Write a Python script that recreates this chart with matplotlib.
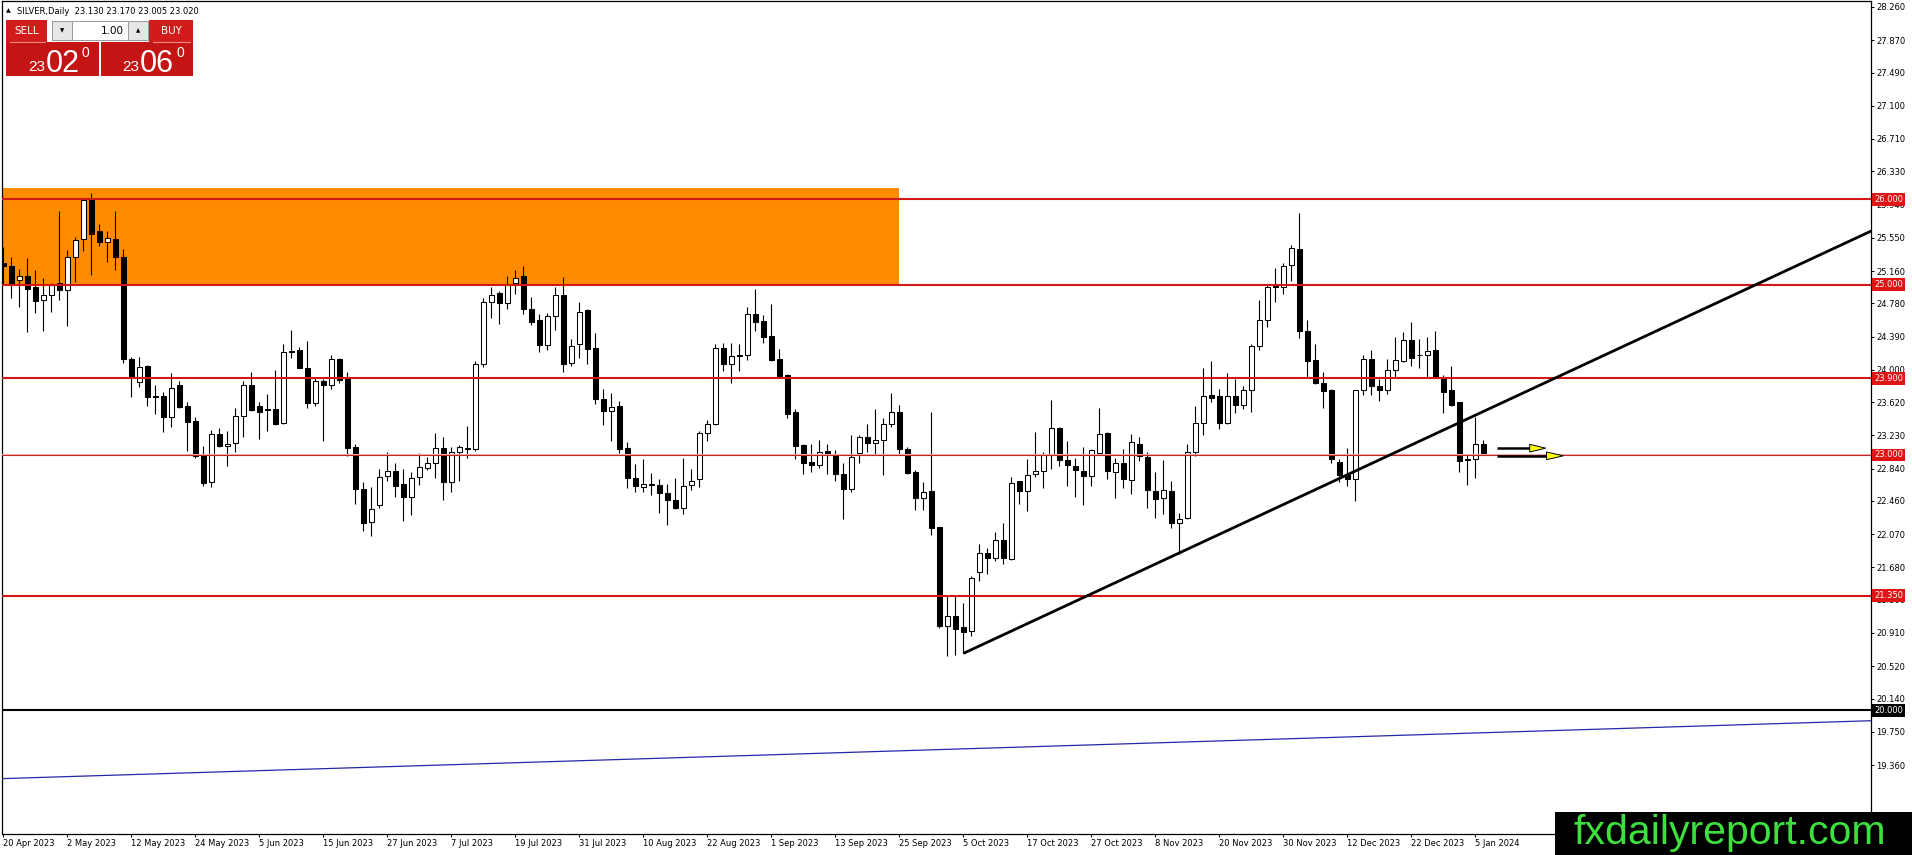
import matplotlib
matplotlib.use('Agg')
import matplotlib.pyplot as plt
from matplotlib.patches import Rectangle, Polygon
import matplotlib.transforms as mtransforms
import numpy as np

# ---------------- data ----------------
opens = [25.25, 25.22, 25.05, 25.10, 24.97, 24.82, 24.88, 25.02, 24.94, 25.32,
         25.53, 25.99, 25.63, 25.50, 25.54, 25.33, 24.13, 23.86, 24.04, 23.69,
         23.69, 23.44, 23.82, 23.58, 23.40, 23.01, 22.68, 23.25, 23.11, 23.14,
         23.46, 23.82, 23.58, 23.54, 23.54, 23.37, 24.22, 24.23, 24.02, 23.61,
         23.87, 23.82, 24.13, 23.89, 23.09, 22.60, 22.21, 22.41, 22.75, 22.81,
         22.66, 22.51, 22.74, 22.85, 22.91, 23.08, 22.68, 23.03, 23.08, 23.07,
         24.07, 24.80, 24.90, 24.78, 25.02, 25.10, 24.71, 24.58, 24.29, 24.63,
         24.88, 24.08, 24.30, 24.70, 24.26, 23.66, 23.52, 23.58, 23.08, 22.73,
         22.62, 22.65, 22.65, 22.55, 22.47, 22.38, 22.65, 22.72, 23.26, 23.36,
         24.26, 24.07, 24.17, 24.17, 24.66, 24.57, 24.40, 24.13, 23.94, 23.50,
         23.12, 22.92, 22.88, 23.05, 23.01, 22.78, 22.60, 23.02, 23.21, 23.14,
         23.18, 23.36, 23.50, 23.07, 22.80, 22.50, 22.58, 22.15, 20.99, 21.11,
         20.98, 20.93, 21.63, 21.85, 21.79, 22.00, 21.78, 22.69, 22.58, 22.78,
         22.81, 23.00, 23.32, 22.94, 22.87, 22.81, 22.75, 23.02, 23.26, 22.80,
         22.90, 22.71, 23.13, 22.98, 22.58, 22.49, 22.58, 22.20, 22.26, 23.04,
         23.38, 23.70, 23.69, 23.38, 23.69, 23.59, 23.76, 24.28, 24.59, 25.00,
         24.97, 25.23, 25.42, 24.45, 24.12, 23.85, 23.76, 22.92, 22.76, 22.72,
         23.76, 24.13, 23.81, 23.76, 24.00, 24.10, 24.35, 24.17, 24.17, 24.23,
         23.92, 23.76, 23.62, 22.95, 22.95, 23.13]
highs = [25.44, 25.33, 25.18, 25.31, 25.17, 25.08, 25.02, 25.86, 25.41, 25.56,
         26.02, 26.08, 25.71, 25.63, 25.87, 25.42, 24.15, 24.15, 24.06, 23.82,
         23.74, 23.96, 23.87, 23.62, 23.44, 23.10, 23.29, 23.32, 23.28, 23.55,
         23.87, 23.97, 23.62, 23.72, 24.00, 24.30, 24.47, 24.27, 24.34, 23.91,
         23.89, 24.17, 24.14, 23.98, 23.13, 22.68, 22.62, 22.84, 23.04, 22.91,
         22.83, 22.80, 23.02, 22.98, 23.26, 23.21, 23.09, 23.12, 23.34, 24.10,
         24.84, 24.97, 24.93, 25.10, 25.17, 25.22, 24.86, 24.65, 24.67, 24.97,
         25.09, 24.36, 24.80, 24.71, 24.43, 23.78, 23.73, 23.63, 23.15, 22.89,
         22.95, 22.79, 22.72, 22.66, 22.73, 22.96, 22.84, 23.28, 23.41, 24.30,
         24.31, 24.32, 24.30, 24.74, 24.95, 24.64, 24.77, 24.24, 23.95, 23.54,
         23.13, 23.13, 23.17, 23.13, 23.06, 22.91, 23.23, 23.23, 23.36, 23.54,
         23.43, 23.73, 23.59, 23.09, 22.82, 22.68, 23.50, 22.15, 21.35, 21.35,
         21.26, 21.58, 21.96, 21.91, 22.09, 22.20, 22.74, 22.70, 22.95, 23.27,
         23.04, 23.64, 23.33, 23.16, 22.97, 23.09, 23.07, 23.55, 23.27, 22.97,
         23.07, 23.25, 23.21, 23.03, 22.80, 22.94, 22.70, 22.32, 23.13, 23.57,
         24.02, 24.10, 23.78, 23.96, 23.89, 23.81, 24.30, 24.82, 24.99, 25.20,
         25.25, 25.47, 25.84, 24.59, 24.30, 23.97, 23.78, 22.95, 23.08, 23.76,
         24.17, 24.23, 23.89, 24.13, 24.39, 24.44, 24.56, 24.36, 24.39, 24.45,
         23.94, 24.04, 23.62, 23.01, 23.44, 23.17]
lows = [25.01, 24.84, 24.74, 24.44, 24.67, 24.45, 24.68, 24.82, 24.52, 25.03,
        25.39, 25.11, 25.45, 25.26, 25.17, 24.08, 23.68, 23.80, 23.57, 23.48,
        23.27, 23.33, 23.55, 23.05, 22.97, 22.63, 22.62, 23.09, 22.87, 23.03,
        23.21, 23.52, 23.19, 23.28, 23.35, 23.36, 24.14, 24.02, 23.55, 23.58,
        23.16, 23.78, 23.84, 22.99, 22.43, 22.11, 22.05, 22.38, 22.70, 22.51,
        22.23, 22.30, 22.65, 22.82, 22.73, 22.47, 22.57, 22.70, 22.97, 23.05,
        24.03, 24.61, 24.54, 24.71, 24.89, 24.65, 24.53, 24.21, 24.23, 24.47,
        23.98, 24.05, 24.14, 24.07, 23.60, 23.35, 23.16, 23.02, 22.61, 22.57,
        22.57, 22.53, 22.32, 22.18, 22.36, 22.31, 22.59, 22.62, 23.16, 23.35,
        23.99, 23.85, 23.99, 24.12, 24.46, 24.31, 24.10, 23.90, 23.43, 22.95,
        22.78, 22.80, 22.85, 22.78, 22.69, 22.25, 22.57, 22.91, 23.04, 23.00,
        22.76, 23.33, 23.00, 22.78, 22.35, 22.35, 22.06, 20.97, 20.64, 20.65,
        20.67, 20.88, 21.52, 21.60, 21.75, 21.72, 21.77, 22.43, 22.34, 22.74,
        22.61, 22.84, 22.87, 22.63, 22.51, 22.41, 22.63, 23.00, 22.72, 22.49,
        22.61, 22.54, 22.93, 22.38, 22.26, 22.31, 22.14, 21.84, 22.25, 22.99,
        23.23, 23.62, 23.31, 23.36, 23.49, 23.54, 23.51, 24.23, 24.50, 24.80,
        24.89, 25.04, 24.37, 23.92, 23.83, 23.55, 22.91, 22.68, 22.63, 22.46,
        23.71, 23.71, 23.63, 23.72, 23.91, 24.09, 24.04, 24.02, 23.91, 23.90,
        23.49, 23.58, 22.80, 22.65, 22.73, 23.005]
closes = [25.22, 25.02, 25.10, 24.95, 24.81, 24.88, 24.99, 24.94, 25.32, 25.52,
          25.99, 25.60, 25.50, 25.55, 25.32, 24.13, 23.90, 24.03, 23.68, 23.68,
          23.44, 23.79, 23.56, 23.39, 22.99, 22.67, 23.25, 23.11, 23.13, 23.46,
          23.82, 23.53, 23.51, 23.53, 23.36, 24.21, 24.21, 24.02, 23.61, 23.87,
          23.82, 24.13, 23.88, 23.08, 22.60, 22.20, 22.37, 22.74, 22.81, 22.64,
          22.51, 22.73, 22.86, 22.91, 23.08, 22.68, 23.03, 23.09, 23.07, 24.07,
          24.80, 24.88, 24.78, 25.00, 25.08, 24.71, 24.56, 24.29, 24.63, 24.88,
          24.07, 24.28, 24.68, 24.25, 23.66, 23.52, 23.56, 23.07, 22.73, 22.63,
          22.66, 22.66, 22.55, 22.47, 22.38, 22.64, 22.70, 23.26, 23.36, 24.26,
          24.07, 24.16, 24.16, 24.66, 24.56, 24.39, 24.12, 23.93, 23.48, 23.11,
          22.91, 22.88, 23.03, 23.01, 22.78, 22.60, 22.98, 23.21, 23.14, 23.18,
          23.36, 23.50, 23.07, 22.79, 22.50, 22.57, 22.14, 20.99, 21.11, 20.96,
          20.92, 21.56, 21.85, 21.79, 22.00, 21.79, 22.67, 22.58, 22.76, 22.81,
          23.00, 23.32, 22.94, 22.88, 22.82, 22.75, 23.06, 23.25, 22.81, 22.90,
          22.72, 23.15, 22.99, 22.59, 22.48, 22.59, 22.20, 22.25, 23.03, 23.38,
          23.69, 23.67, 23.38, 23.69, 23.59, 23.76, 24.28, 24.59, 24.97, 24.97,
          25.22, 25.43, 24.45, 24.10, 23.84, 23.75, 22.95, 22.76, 22.72, 23.76,
          24.13, 23.81, 23.76, 24.00, 24.11, 24.35, 24.14, 24.17, 24.22, 23.92,
          23.74, 23.59, 22.93, 22.94, 23.13, 23.02]

date_labels = ['20 Apr 2023', '2 May 2023', '12 May 2023', '24 May 2023', '5 Jun 2023',
               '15 Jun 2023', '27 Jun 2023', '7 Jul 2023', '19 Jul 2023', '31 Jul 2023',
               '10 Aug 2023', '22 Aug 2023', '1 Sep 2023', '13 Sep 2023', '25 Sep 2023',
               '5 Oct 2023', '17 Oct 2023', '27 Oct 2023', '8 Nov 2023', '20 Nov 2023',
               '30 Nov 2023', '12 Dec 2023', '22 Dec 2023', '5 Jan 2024']
date_label_bars = list(range(0, 8 * len(date_labels), 8))

price_ticks = [28.260, 27.870, 27.490, 27.100, 26.710, 26.330, 25.940, 25.550,
               25.160, 24.780, 24.390, 24.000, 23.620, 23.230, 22.840, 22.460,
               22.070, 21.680, 21.300, 20.910, 20.520, 20.140, 19.750, 19.360]

red_levels = [26.000, 25.000, 23.900, 21.350]
thin_level = 23.000
black_level = 20.000

zone_top = 26.135
zone_bottom = 25.000
zone_end_bar = 112

trend_bars = [120, 233.5]
trend_prices = [20.67, 25.63]

channel_bars = [-0.2, 233.5]
channel_prices = [19.20, 19.88]

arrow_tail_bar = 186.7
arrow_levels = [23.08, 22.99]
arrow_head_start = [190.8, 192.9]
arrow_head_tip = [192.8, 195.0]
arrow_half_height = 0.045

header_text = 'SILVER,Daily  23.130 23.170 23.005 23.020'
sell_price = ('23', '02', '0')
buy_price = ('23', '06', '0')
lot_text = '1.00'
watermark = 'fxdailyreport.com'

# ---------------- figure ----------------
W, H = 1912, 855
DPI = 100
fig = plt.figure(figsize=(W / DPI, H / DPI), dpi=DPI, facecolor='white')

left_px, right_px, top_px, bottom_px = 2, 1871, 1, 834
ax = fig.add_axes([left_px / W, (H - bottom_px) / H,
                   (right_px - left_px) / W, (bottom_px - top_px) / H])
ax.set_facecolor('white')
ax.set_xlim(-0.1625, 233.4625)
ax.set_ylim(18.550, 28.330)

for sp in ax.spines.values():
    sp.set_color('black')
    sp.set_linewidth(0.9)

# zone
x0 = ax.get_xlim()[0] - 2
ax.add_patch(Rectangle((x0, zone_bottom), zone_end_bar - x0, zone_top - zone_bottom,
                       facecolor='#ff8c00', edgecolor='none', zorder=1))

# candles
o = np.array(opens); h = np.array(highs); l = np.array(lows); c = np.array(closes)
xs = np.arange(len(o))
ax.vlines(xs, l, h, color='black', linewidth=0.8, zorder=3)
body_bottom = np.minimum(o, c)
body_height = np.maximum(np.abs(c - o), 0.004)
face = ['white' if cc > oo else 'black' for oo, cc in zip(o, c)]
ax.bar(xs, body_height, bottom=body_bottom, width=0.56, color=face,
       edgecolor='black', linewidth=0.75, zorder=4)

# horizontal levels
for lv in red_levels:
    ax.axhline(lv, color='#d01818', linewidth=1.5, zorder=5)
ax.axhline(thin_level + 0.012, color='#f0b0b0', linewidth=0.8, zorder=5)
ax.axhline(thin_level, color='#c02828', linewidth=0.8, zorder=5)
ax.axhline(black_level, color='black', linewidth=1.5, zorder=5)

# channel (blue) line and trendline
ax.plot(channel_bars, channel_prices, color='#2626a8', linewidth=0.9, zorder=5)
ax.plot(trend_bars, trend_prices, color='black', linewidth=2.0, zorder=6,
        solid_capstyle='butt')

# arrows
for lv, hs, ht in zip(arrow_levels, arrow_head_start, arrow_head_tip):
    ax.plot([arrow_tail_bar, hs], [lv, lv], color='black', linewidth=1.8, zorder=7,
            solid_capstyle='butt')
    ax.add_patch(Polygon([[hs, lv + arrow_half_height], [ht, lv],
                          [hs, lv - arrow_half_height]], closed=True,
                         facecolor='#ffff00', edgecolor='black', linewidth=0.7, zorder=8))

# axes ticks
ax.yaxis.tick_right()
ax.set_yticks(price_ticks)
ax.set_yticklabels([f'{v:.3f}' for v in price_ticks])
ax.tick_params(axis='y', direction='out', length=2.2, width=0.7, pad=1.5,
               labelsize=6, colors='black')
ax.set_xticks(date_label_bars)
ax.set_xticklabels(date_labels)
ax.tick_params(axis='x', direction='out', length=2.2, width=0.7, pad=1.2,
               labelsize=6, colors='black')
for lbl in ax.get_xticklabels():
    lbl.set_horizontalalignment('left')

# price labels on axis
blend = mtransforms.blended_transform_factory(ax.transAxes, ax.transData)
for lv in red_levels + [thin_level]:
    ax.text(1.0016, lv, f'{lv:.3f}', transform=blend, ha='left', va='center',
            fontsize=6, color='white', clip_on=False, zorder=20,
            bbox=dict(boxstyle='square,pad=0.22', facecolor='#e01414', edgecolor='none'))
ax.text(1.0016, black_level, f'{black_level:.3f}', transform=blend, ha='left', va='center',
        fontsize=6, color='white', clip_on=False, zorder=20,
        bbox=dict(boxstyle='square,pad=0.22', facecolor='black', edgecolor='none'))

# ---------------- overlay (pixel coords) ----------------
ov = fig.add_axes([0, 0, 1, 1], zorder=10)
ov.set_xlim(0, W)
ov.set_ylim(H, 0)
ov.axis('off')
ov.patch.set_alpha(0)

ov.text(6, 11, '\u25b2', fontsize=4.5, color='black', va='center', ha='left')
ov.text(17, 11, header_text, fontsize=6, color='black', va='center', ha='left')

red = '#d21c1c'
ov.add_patch(Rectangle((6, 20), 41, 22, facecolor=red, edgecolor='none'))
ov.add_patch(Rectangle((149, 20), 44, 22, facecolor=red, edgecolor='none'))
ov.add_patch(Rectangle((6, 42), 93, 34, facecolor='#c41414', edgecolor='none'))
ov.add_patch(Rectangle((101, 42), 92, 34, facecolor='#c41414', edgecolor='none'))
ov.plot([10, 45], [42, 42], color='#f08a8a', linewidth=0.8)
ov.plot([153, 190], [42, 42], color='#f08a8a', linewidth=0.8)
ov.add_patch(Rectangle((52, 21), 20, 19, facecolor='#e6e6e6', edgecolor='#9a9a9a', linewidth=0.7))
ov.add_patch(Rectangle((72, 21), 56, 19, facecolor='white', edgecolor='#9a9a9a', linewidth=0.7))
ov.add_patch(Rectangle((128, 21), 20, 19, facecolor='#e6e6e6', edgecolor='#9a9a9a', linewidth=0.7))
ov.text(62, 31, '\u25bc', fontsize=4, ha='center', va='center', color='black')
ov.text(138, 30.5, '\u25b2', fontsize=4, ha='center', va='center', color='black')
ov.text(124, 31, lot_text, fontsize=7.5, ha='right', va='center', color='black')
ov.text(26.5, 31, 'SELL', fontsize=7.5, ha='center', va='center', color='white')
ov.text(171, 31, 'BUY', fontsize=7.5, ha='center', va='center', color='white')

big_font = 'Liberation Sans'
for (small, big, sup), xs_, xb, xu in [(sell_price, 28, 46, 82), (buy_price, 122, 140, 177)]:
    ov.text(xs_, 71, small, fontsize=11, color='white', ha='left', va='baseline', family=big_font)
    ov.text(xb, 72, big, fontsize=22, color='white', ha='left', va='baseline', family=big_font)
    ov.text(xu, 57, sup, fontsize=10, color='white', ha='left', va='baseline', family=big_font)

# watermark
ov.add_patch(Rectangle((1555, 812), W - 1555, H - 812, facecolor='black', edgecolor='none'))
ov.text(1573, 844, watermark, fontsize=29.5, color='#3ee03e', ha='left', va='baseline',
        family='Liberation Sans')

fig.savefig('out.png', dpi=DPI, facecolor='white')
